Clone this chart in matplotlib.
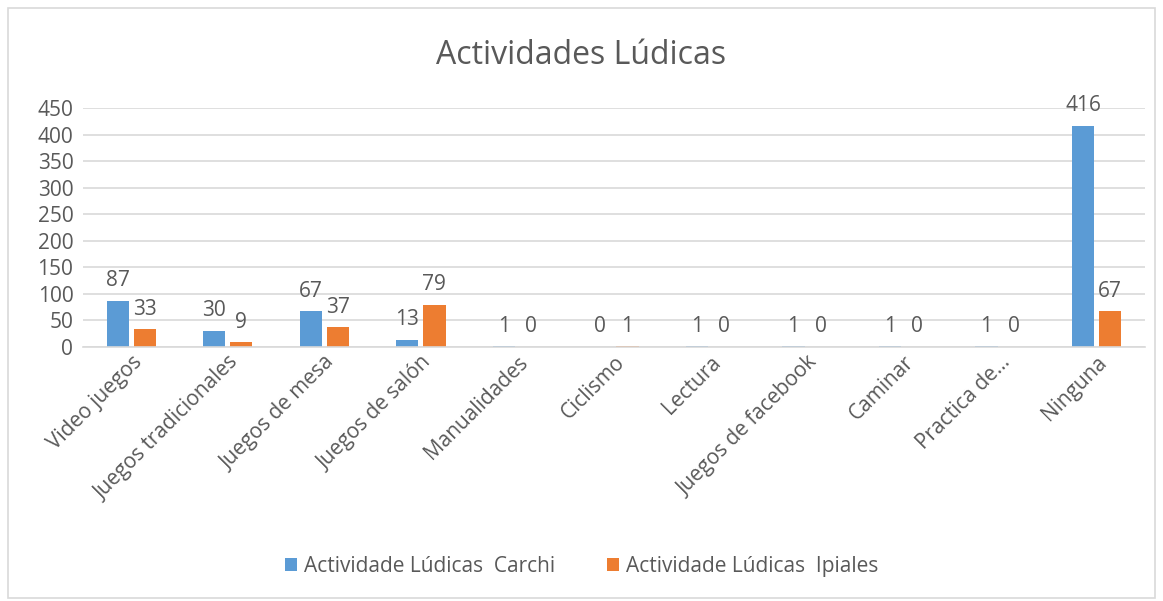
import numpy as np
import matplotlib.pyplot as plt
from matplotlib.patches import Rectangle

categories = ['Video juegos', 'Juegos tradicionales', 'Juegos de mesa', 'Juegos de salón',
              'Manualidades', 'Ciclismo', 'Lectura', 'Juegos de facebook', 'Caminar',
              'Practica de…', 'Ninguna']
carchi = [87, 30, 67, 13, 1, 0, 1, 1, 1, 1, 416]
ipiales = [33, 9, 37, 79, 0, 1, 0, 0, 0, 0, 67]

plt.rcParams['font.family'] = ['Open Sans', 'DejaVu Sans']
txt = '#595959'

fig = plt.figure(figsize=(11.63, 6.01), dpi=100)
fig.patches.append(Rectangle((0.007, 0.005), 0.986, 0.982, transform=fig.transFigure,
                             fill=False, edgecolor='#d9d9d9', lw=1.2))
ax = fig.add_axes([0.0714, 0.4226, 0.913, 0.3977])

x = np.arange(len(categories))
w = 0.23
b1 = ax.bar(x - 0.14, carchi, w, color='#5B9BD5', label='Actividade Lúdicas  Carchi')
b2 = ax.bar(x + 0.14, ipiales, w, color='#ED7D31', label='Actividade Lúdicas  Ipiales')

for bars, vals in ((b1, carchi), (b2, ipiales)):
    for rect, v in zip(bars, vals):
        ax.annotate(str(v), (rect.get_x() + rect.get_width() / 2, v),
                    xytext=(0, 7), textcoords='offset points',
                    ha='center', va='bottom', fontsize=15, color=txt)

ax.set_ylim(0, 450)
ax.set_xlim(-0.5, len(categories) - 0.5)
ax.set_yticks(range(0, 451, 50))
ax.grid(True, axis='y', color='#d9d9d9', lw=1.2)
ax.set_axisbelow(True)
for s in ['top', 'right', 'left']:
    ax.spines[s].set_visible(False)
ax.spines['bottom'].set_color('#d9d9d9')
ax.spines['bottom'].set_linewidth(1.2)
ax.tick_params(length=0, labelsize=15, labelcolor=txt)
ax.tick_params(axis='y', pad=7)
ax.set_xticks(x)
ax.set_xticklabels(categories, rotation=45, ha='right', rotation_mode='anchor')

fig.text(0.5, 0.908, 'Actividades Lúdicas', ha='center', va='center', fontsize=23, color=txt)
fig.legend(loc='center', bbox_to_anchor=(0.5, 0.058), ncol=2, frameon=False,
           fontsize=15, labelcolor=txt, handlelength=0.6, handleheight=0.6,
           handletextpad=0.3, columnspacing=2.5)

plt.savefig('out.png')
